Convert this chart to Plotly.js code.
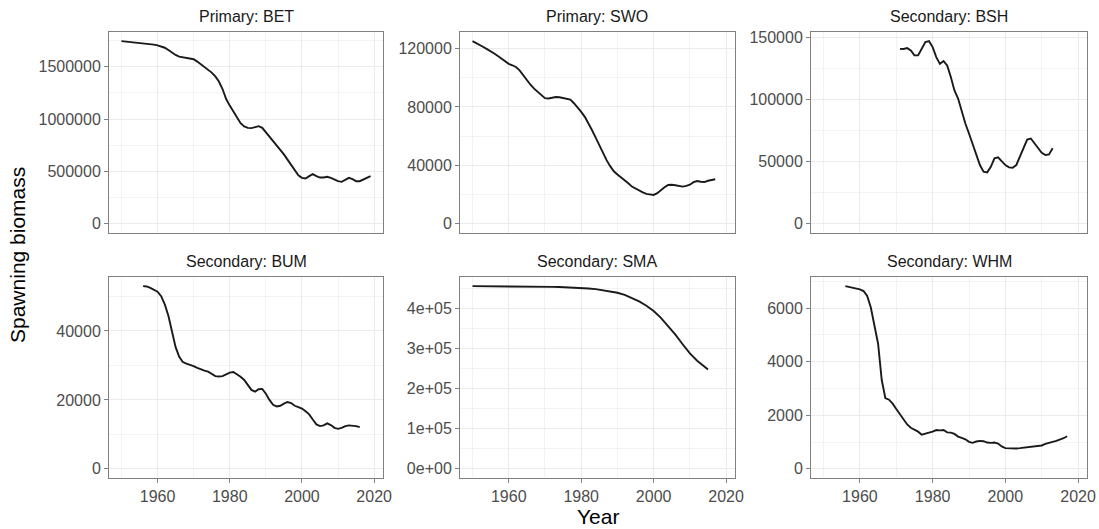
<!DOCTYPE html>
<html>
<head>
<meta charset="utf-8">
<script src="https://cdn.plot.ly/plotly-3.0.1.min.js"></script>
<style>html,body{margin:0;padding:0;background:#fff}#chart{width:1099px;height:529px}</style>
</head>
<body>
<div id="chart"></div>
<script>
// ---- Data ----
const panelTitles = ["Primary: BET", "Primary: SWO", "Secondary: BSH", "Secondary: BUM", "Secondary: SMA", "Secondary: WHM"];

const betYears = [1950,1951,1952,1953,1954,1955,1956,1957,1958,1959,1960,1961,1962,1963,1964,1965,1966,1967,1968,1969,1970,1971,1972,1973,1974,1975,1976,1977,1978,1979,1980,1981,1982,1983,1984,1985,1986,1987,1988,1989,1990,1991,1992,1993,1994,1995,1996,1997,1998,1999,2000,2001,2002,2003,2004,2005,2006,2007,2008,2009,2010,2011,2012,2013,2014,2015,2016,2017,2018,2019];
const betValues = [1743000,1740000,1737000,1734000,1731000,1728000,1725000,1721000,1718000,1710000,1702000,1692000,1680000,1658000,1633000,1611000,1595000,1589000,1586000,1576000,1570000,1548000,1522000,1497000,1472000,1443000,1406000,1358000,1286000,1191000,1128000,1071000,1011000,960000,929000,916000,913000,922000,932000,916000,875000,828000,790000,749000,707000,663000,613000,559000,512000,464000,439000,433000,455000,474000,455000,442000,442000,449000,439000,423000,407000,401000,417000,439000,426000,407000,407000,423000,442000,455000];

const swoYears = [1950,1951,1952,1953,1954,1955,1956,1957,1958,1959,1960,1961,1962,1963,1964,1965,1966,1967,1968,1969,1970,1971,1972,1973,1974,1975,1976,1977,1978,1979,1980,1981,1982,1983,1984,1985,1986,1987,1988,1989,1990,1991,1992,1993,1994,1995,1996,1997,1998,1999,2000,2001,2002,2003,2004,2005,2006,2007,2008,2009,2010,2011,2012,2013,2014,2015,2016,2017];
const swoValues = [125000,123800,122500,121000,119500,118200,116500,114800,113000,111200,109500,108500,107300,105000,101500,98200,95200,92500,90200,88000,86000,85800,86400,86800,86600,86000,85600,85000,82500,79800,76600,73200,69000,64000,59000,53900,48500,43600,39500,36000,33800,32000,30000,27800,25500,24000,22700,21500,20500,19900,19800,21000,23200,25000,26600,26800,26400,25800,25500,26000,26800,28500,29300,28800,28600,29500,30000,30500];

const bshYears = [1971,1972,1973,1974,1975,1976,1977,1978,1979,1980,1981,1982,1983,1984,1985,1986,1987,1988,1989,1990,1991,1992,1993,1994,1995,1996,1997,1998,1999,2000,2001,2002,2003,2004,2005,2006,2007,2008,2009,2010,2011,2012,2013];
const bshValues = [141100,141000,141700,139800,135800,135800,141100,146500,147300,142500,134400,129000,131200,127700,118400,107600,101000,90200,80900,72800,64800,55400,47400,42000,41500,46000,52800,53600,50600,47400,45500,45300,47400,54100,62100,68000,68800,64800,60800,57300,55500,56000,61000];

const bumYears = [1956,1957,1958,1959,1960,1961,1962,1963,1964,1965,1966,1967,1968,1969,1970,1971,1972,1973,1974,1975,1976,1977,1978,1979,1980,1981,1982,1983,1984,1985,1986,1987,1988,1989,1990,1991,1992,1993,1994,1995,1996,1997,1998,1999,2000,2001,2002,2003,2004,2005,2006,2007,2008,2009,2010,2011,2012,2013,2014,2015,2016];
const bumValues = [53000,52900,52500,52000,51400,50100,47700,44400,39600,35300,32500,31000,30500,30200,29800,29300,28800,28500,28200,27500,26900,26800,26900,27400,27900,28100,27500,26700,25800,24400,22900,22400,23100,23200,21800,20000,18600,18100,18300,18900,19400,19100,18300,17900,17500,16700,15800,14300,12900,12400,12600,13200,12700,11900,11600,11900,12400,12600,12600,12400,12100];

const smaYears = [1950,1952,1954,1956,1958,1960,1962,1964,1966,1968,1970,1972,1974,1976,1978,1980,1982,1984,1986,1988,1990,1992,1994,1996,1998,2000,2002,2004,2006,2008,2010,2012,2014,2015];
const smaValues = [456000,456000,456000,455900,455800,455700,455500,455300,455000,454800,454600,454200,453800,453200,452500,451600,450200,448500,446000,443000,439500,434000,427000,418000,407000,394000,377000,357000,335000,311000,288000,270000,255000,248000];

const whmYears = [1956,1957,1958,1959,1960,1961,1962,1963,1964,1965,1966,1967,1968,1969,1970,1971,1972,1973,1974,1975,1976,1977,1978,1979,1980,1981,1982,1983,1984,1985,1986,1987,1988,1989,1990,1991,1992,1993,1994,1995,1996,1997,1998,1999,2000,2001,2002,2003,2004,2005,2006,2007,2008,2009,2010,2011,2012,2013,2014,2015,2016,2017];
const whmValues = [6822,6798,6761,6724,6700,6638,6454,6024,5409,4671,3318,2642,2581,2434,2237,2028,1844,1659,1536,1475,1389,1278,1303,1352,1389,1450,1438,1450,1364,1352,1303,1204,1155,1106,1008,971,1020,1045,1032,983,971,983,946,836,774,762,750,762,774,787,811,823,836,848,873,934,983,1008,1045,1082,1143,1217];

const xTickVals = [1960, 1980, 2000, 2020];
const yTicks = [
  {vals:[0,500000,1000000,1500000], text:["0","500000","1000000","1500000"], minor:250000},
  {vals:[0,40000,80000,120000], text:["0","40000","80000","120000"], minor:20000},
  {vals:[0,50000,100000,150000], text:["0","50000","100000","150000"], minor:25000},
  {vals:[0,20000,40000], text:["0","20000","40000"], minor:10000},
  {vals:[0,100000,200000,300000,400000], text:["0e+00","1e+05","2e+05","3e+05","4e+05"], minor:50000},
  {vals:[0,2000,4000,6000], text:["0","2000","4000","6000"], minor:1000}
];

const seriesX = [betYears, swoYears, bshYears, bumYears, smaYears, whmYears];
const seriesY = [betValues, swoValues, bshValues, bumValues, smaValues, whmValues];

// ---- Layout helpers ----
const W = 1099, H = 529;
const colPx = [[109,383],[460,735],[811,1087]];
const rowPx = [[32,233],[277,478]];
const allYears = [].concat(...seriesX);
const xmin = Math.min(...allYears), xmax = Math.max(...allYears);
const xpad = (xmax - xmin) * 0.05;
const xRange = [xmin - xpad, xmax + xpad];

const traces = [];
const layout = {
  width: W, height: H,
  margin: {l:0, r:0, t:0, b:0},
  paper_bgcolor: "#ffffff",
  plot_bgcolor: "#ffffff",
  showlegend: false,
  font: {family: "Liberation Sans, Arial, sans-serif", size: 16, color: "#4d4d4d"},
  annotations: []
};

const gridCol = "#ebebeb";
const lineCol = "#808080";

for (let i = 0; i < 6; i++) {
  const r = Math.floor(i / 3), c = i % 3;
  const n = i === 0 ? "" : String(i + 1);
  const xd = [colPx[c][0] / W, colPx[c][1] / W];
  const yd = [1 - rowPx[r][1] / H, 1 - rowPx[r][0] / H];
  const yv = seriesY[i];
  const ymin = Math.min(0, ...yv), ymax = Math.max(...yv);
  const ypad = (ymax - ymin) * 0.05;
  traces.push({
    x: seriesX[i], y: yv, type: "scatter", mode: "lines",
    line: {color: "#1a1a1a", width: 1.9},
    xaxis: "x" + n, yaxis: "y" + n, hoverinfo: "x+y"
  });
  layout["xaxis" + n] = {
    domain: xd, anchor: "y" + n, range: xRange,
    tickmode: "array", tickvals: xTickVals,
    ticktext: xTickVals.map(String),
    showticklabels: r === 1,
    ticks: r === 1 ? "outside" : "", ticklen: 4, tickwidth: 1, tickcolor: lineCol,
    tickfont: {size: 16, color: "#4d4d4d"},
    showgrid: true, gridcolor: gridCol, gridwidth: 1,
    minor: {tickmode: "linear", tick0: 1950, dtick: 20, showgrid: true, gridcolor: gridCol, gridwidth: 0.6, ticks: ""},
    showline: true, mirror: true, linecolor: lineCol, linewidth: 1,
    zeroline: false, fixedrange: true
  };
  layout["yaxis" + n] = {
    domain: yd, anchor: "x" + n, range: [ymin - ypad, ymax + ypad],
    tickmode: "array", tickvals: yTicks[i].vals, ticktext: yTicks[i].text,
    ticks: "outside", ticklen: 4, tickwidth: 1, tickcolor: lineCol,
    tickfont: {size: 16, color: "#4d4d4d"},
    showgrid: true, gridcolor: gridCol, gridwidth: 1,
    minor: {tickmode: "linear", tick0: yTicks[i].minor, dtick: yTicks[i].minor * 2, showgrid: true, gridcolor: gridCol, gridwidth: 0.6, ticks: ""},
    showline: true, mirror: true, linecolor: lineCol, linewidth: 1,
    zeroline: false, fixedrange: true
  };
  layout.annotations.push({
    text: panelTitles[i], xref: "paper", yref: "paper",
    x: (xd[0] + xd[1]) / 2, y: yd[1], yshift: 16,
    xanchor: "center", yanchor: "middle", showarrow: false,
    font: {size: 16, color: "#1a1a1a"}
  });
}

layout.annotations.push({
  text: "Year", xref: "paper", yref: "paper",
  x: 598 / W, y: 1 - 516 / H, xanchor: "center", yanchor: "middle",
  showarrow: false, font: {size: 21, color: "#000000"}
});
layout.annotations.push({
  text: "Spawning biomass", xref: "paper", yref: "paper",
  x: 18 / W, y: 1 - 255 / H, xanchor: "center", yanchor: "middle", textangle: -90,
  showarrow: false, font: {size: 21, color: "#000000"}
});

Plotly.newPlot("chart", traces, layout, {staticPlot: true, displayModeBar: false});
</script>
</body>
</html>
